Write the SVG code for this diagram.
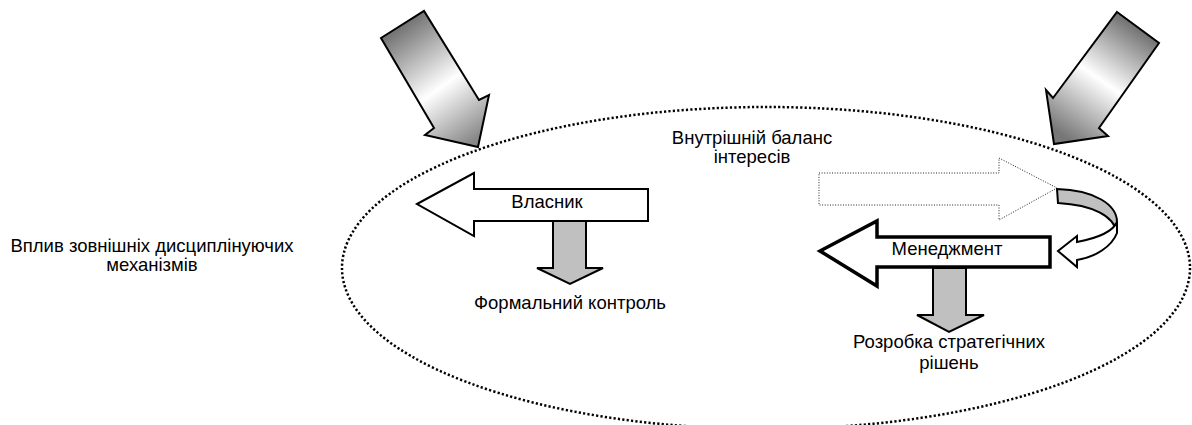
<svg xmlns="http://www.w3.org/2000/svg" width="1192" height="425" viewBox="0 0 1192 425">
<style>
text{font-family:"Liberation Sans",Arial,sans-serif;font-size:18.5px;fill:#000;text-anchor:middle}
.big{stroke:#000;stroke-width:2;stroke-linejoin:miter}
.grey{fill:#c0c0c0;stroke:#000;stroke-width:2}
.white{fill:#fff;stroke:#000;stroke-width:2}
</style>
<defs>
<linearGradient id="gL" gradientUnits="userSpaceOnUse" x1="392" y1="28" x2="472" y2="142">
<stop offset="0" stop-color="#6c6c6c"/><stop offset="0.55" stop-color="#ffffff"/><stop offset="1" stop-color="#888888"/>
</linearGradient>
<linearGradient id="gR" gradientUnits="userSpaceOnUse" x1="1140" y1="26" x2="1064" y2="136">
<stop offset="0" stop-color="#6c6c6c"/><stop offset="0.5" stop-color="#ffffff"/><stop offset="1" stop-color="#777777"/>
</linearGradient>
</defs>
<g id="ellipse">
<ellipse cx="766" cy="268" rx="424" ry="161" fill="none" stroke="#000" stroke-width="2.5" stroke-dasharray="2.2 2.2"/>
</g>
<g id="external-left">
<path class="big" fill="url(#gL)" d="M381,38 L424,11 L479,100 L489,95 L478,147 L425,135 L434,128 Z"/>
</g>
<g id="external-right">
<path class="big" fill="url(#gR)" d="M1117,12 L1159,43 L1099,128 L1108,136 L1054,144 L1046,90 L1053,98 Z"/>
</g>
<g id="vlasnyk">
<path class="white" d="M417,204 L474,173 L474,189 L648,189 L648,221 L474,221 L474,236 Z"/>
<text x="547" y="208">Власник</text>
</g>
<g id="formal-control">
<path class="grey" d="M553,221 L586,221 L586,268 L603,268 L570,284 L537,268 L553,268 Z"/>
<text x="570" y="309">Формальний контроль</text>
</g>
<g id="internal-balance">
<path fill="#fff" stroke="#222" stroke-width="1" stroke-dasharray="1 1.6" d="M819,173 L999,173 L999,158 L1057,188 L999,220 L999,205 L819,205 Z"/>
<text x="752" y="144">Внутрішній баланс</text>
<text x="752" y="163">інтересів</text>
</g>
<g id="curve">
<path class="grey" d="M1057,189 C1095,190 1117,205 1117,222 L1117,233 C1114,216 1093,205 1058,203 Z"/>
<path class="white" d="M1077,242 C1098,238 1113,231 1117,222 L1117,233 C1112,246 1096,257 1077,260 L1077,267 L1058,251 L1077,236 Z"/>
</g>
<g id="management">
<path fill="#fff" stroke="#000" stroke-width="3.5" d="M820,251 L877,221 L877,237 L1050,237 L1050,267 L877,267 L877,286 Z"/>
<text x="947" y="255">Менеджмент</text>
</g>
<g id="strategy">
<path class="grey" d="M933,268 L966,268 L966,315 L984,315 L949,332 L917,315 L933,315 Z"/>
<text x="949" y="348">Розробка стратегічних</text>
<text x="949" y="369">рішень</text>
</g>
<g id="external-label">
<text x="152" y="252">Вплив зовнішніх дисциплінуючих</text>
<text x="152" y="271">механізмів</text>
</g>
</svg>
